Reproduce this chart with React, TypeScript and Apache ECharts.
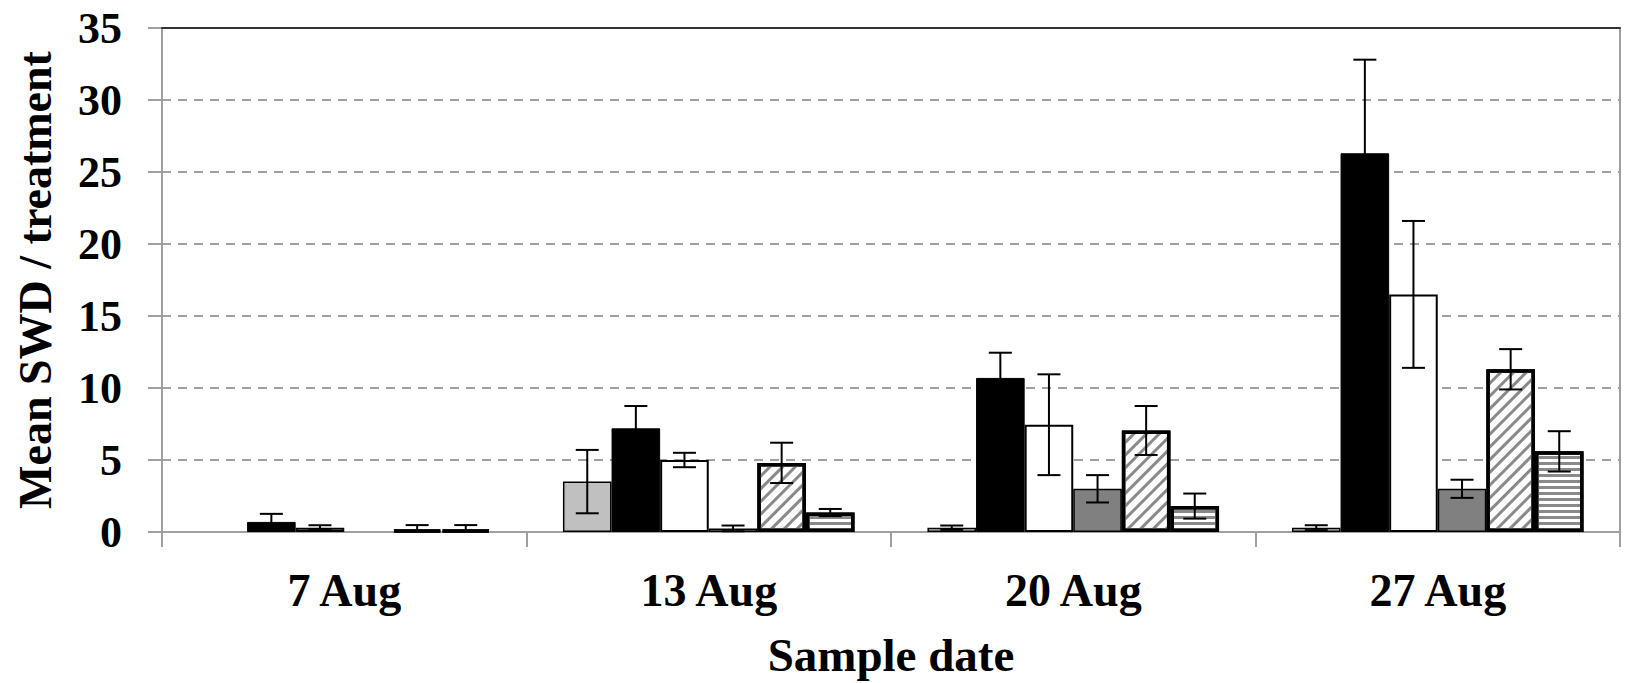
import React, { useEffect, useRef } from "react";
import * as echarts from "echarts";

const categories = ["7 Aug", "13 Aug", "20 Aug", "27 Aug"];
const yTicks = { min: 0, max: 35, interval: 5 };

const seriesNames = ["T1", "T2", "T3", "T4", "T5", "T6"];
const t1Values = [0, 3.5, 0.3, 0.3];
const t1Errors = [0, 2.2, 0.15, 0.17];
const t2Values = [0.7, 7.2, 10.7, 26.3];
const t2Errors = [0.56, 1.55, 1.75, 6.5];
const t3Values = [0.3, 5.0, 7.45, 16.5];
const t3Errors = [0.17, 0.5, 3.5, 5.1];
const t4Values = [0, 0.25, 3.0, 3.0];
const t4Errors = [0, 0.2, 0.95, 0.63];
const t5Values = [0.15, 4.8, 7.05, 11.3];
const t5Errors = [0.33, 1.4, 1.7, 1.4];
const t6Values = [0.15, 1.35, 1.8, 5.6];
const t6Errors = [0.33, 0.25, 0.87, 1.4];

const allValues = [t1Values, t2Values, t3Values, t4Values, t5Values, t6Values];
const allErrors = [t1Errors, t2Errors, t3Errors, t4Errors, t5Errors, t6Errors];

const FONT = "'Liberation Serif', 'Times New Roman', serif";
const CAT_GAP = 0.2;

const barStyles: any[] = [
  { color: "#c0c0c0", borderColor: "#000", borderWidth: 1.5 },
  { color: "#000000", borderColor: "#000", borderWidth: 1 },
  { color: "#ffffff", borderColor: "#000", borderWidth: 2 },
  { color: "#808080", borderColor: "#000", borderWidth: 1.5 },
  {
    color: "#ffffff",
    borderColor: "#000",
    borderWidth: 3.5,
    decal: {
      symbol: "rect",
      symbolSize: 1,
      color: "#8a8a8a",
      dashArrayX: [1, 0],
      dashArrayY: [2.5, 6],
      rotation: -Math.PI / 4,
    },
  },
  {
    color: "#ffffff",
    borderColor: "#000",
    borderWidth: 3.5,
    decal: {
      symbol: "rect",
      symbolSize: 1,
      color: "#8a8a8a",
      dashArrayX: [1, 0],
      dashArrayY: [3, 3],
      rotation: 0,
    },
  },
];

export default function App() {
  const ref = useRef<HTMLDivElement>(null);

  useEffect(() => {
    document.body.style.margin = "0";
    const chart = echarts.init(ref.current!, undefined, { renderer: "svg" });

    const errData: any[] = [];
    allValues.forEach((vals, s) => {
      vals.forEach((v, c) => {
        errData.push([c, v, allErrors[s][c], s]);
      });
    });

    const barSeries = allValues.map((vals, s) => ({
      name: seriesNames[s],
      type: "bar",
      data: vals.map((v) => (v === 0 ? null : v)),
      barGap: "0%",
      barCategoryGap: CAT_GAP * 100 + "%",
      itemStyle: barStyles[s],
      z: 2,
    }));

    const option: any = {
      animation: false,
      grid: { left: 162, right: 5, top: 28, bottom: 148 },
      xAxis: [
        {
          type: "category",
          data: categories,
          position: "bottom",
          axisLine: { lineStyle: { color: "#a0a0a0", width: 2 } },
          axisTick: { show: true, length: 15, lineStyle: { color: "#a0a0a0", width: 2 } },
          axisLabel: {
            color: "#000",
            fontFamily: FONT,
            fontWeight: "bold",
            fontSize: 46,
            margin: 35,
          },
          name: "Sample date",
          nameLocation: "middle",
          nameGap: 99,
          nameTextStyle: { color: "#000", fontFamily: FONT, fontWeight: "bold", fontSize: 47 },
        },
        {
          type: "category",
          data: categories,
          position: "top",
          z: 10,
          axisLine: { onZero: false, lineStyle: { color: "#333", width: 2 } },
          axisTick: { show: false },
          axisLabel: { show: false },
        },
      ],
      yAxis: [
        {
          type: "value",
          min: yTicks.min,
          max: yTicks.max,
          interval: yTicks.interval,
          axisLine: { show: true, lineStyle: { color: "#a0a0a0", width: 2 } },
          axisTick: { show: true, length: 14, lineStyle: { color: "#a0a0a0", width: 2 } },
          splitLine: { show: true, lineStyle: { color: "#a0a0a0", width: 2, type: [9, 7] } },
          axisLabel: {
            color: "#000",
            fontFamily: FONT,
            fontWeight: "bold",
            fontSize: 44,
            margin: 40,
          },
          name: "Mean SWD / treatment",
          nameLocation: "middle",
          nameGap: 104,
          nameTextStyle: { color: "#000", fontFamily: FONT, fontWeight: "bold", fontSize: 46 },
        },
        {
          type: "value",
          min: yTicks.min,
          max: yTicks.max,
          interval: yTicks.interval,
          position: "right",
          axisLine: { show: true, onZero: false, lineStyle: { color: "#a0a0a0", width: 2 } },
          axisTick: { show: false },
          axisLabel: { show: false },
          splitLine: { show: false },
        },
      ],
      series: [
        ...barSeries,
        {
          type: "custom",
          name: "errors",
          data: errData,
          encode: { x: 0, y: 1 },
          z: 5,
          renderItem: (params: any, api: any) => {
            const c = api.value(0);
            const v = api.value(1);
            const e = api.value(2);
            const s = api.value(3);
            if (!e) return null;
            const band = api.size([1, 0])[0];
            const barW = (band * (1 - CAT_GAP)) / 6;
            const center = api.coord([c, v]);
            const x = center[0] + (s - 2.5) * barW;
            const yHi = api.coord([c, v + e])[1];
            const lowVal = v - e;
            const yLo = api.coord([c, Math.max(lowVal, 0)])[1];
            const half = 11.5;
            const style = { stroke: "#000", lineWidth: 2 };
            const children: any[] = [
              { type: "line", shape: { x1: x, y1: yHi, x2: x, y2: yLo }, style },
              { type: "line", shape: { x1: x - half, y1: yHi, x2: x + half, y2: yHi }, style },
            ];
            if (lowVal > 0) {
              children.push({ type: "line", shape: { x1: x - half, y1: yLo, x2: x + half, y2: yLo }, style });
            }
            return { type: "group", children };
          },
        },
      ],
    };

    chart.setOption(option);
    return () => chart.dispose();
  }, []);

  return <div ref={ref} style={{ width: 1625, height: 683 }} />;
}
